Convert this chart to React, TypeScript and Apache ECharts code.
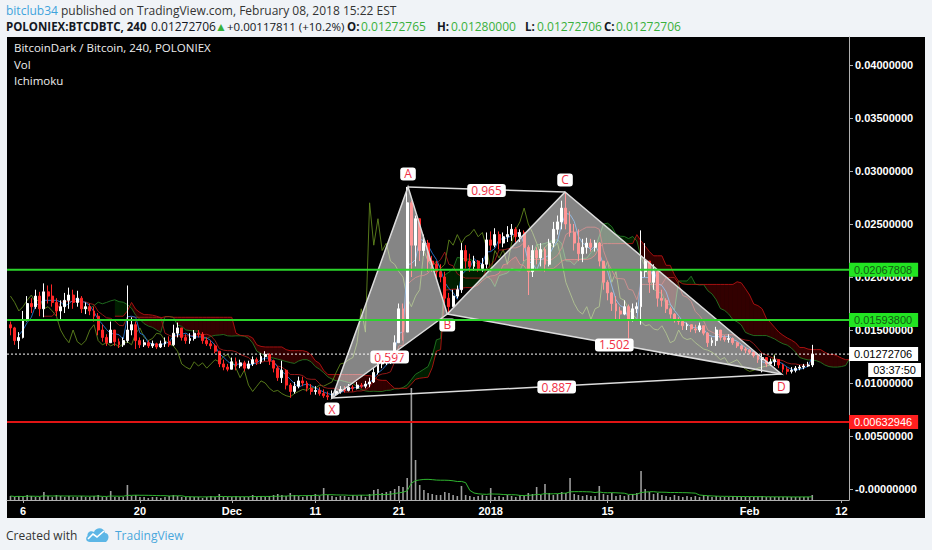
import { useEffect, useRef } from 'react';
import * as echarts from 'echarts';

// ---------- data ----------
// x is measured in days since 6 Nov 2017 00:00; candles every 12h
const FIRST_CANDLE_DAY = -1.5;
const CANDLE_STEP = 0.5;
const PRICE_UNIT = 1e-4; // candle prices below are in 1e-4 BTC
const FIRST_OPEN = 155;

const CLOSE = [
  152, 140, 143, 160, 175, 172, 182, 170, 186, 182,
  176, 168, 172, 178, 183, 176, 180, 170, 172, 168,
  163, 150, 143, 138, 150, 139, 136, 140, 150, 155,
  140, 136, 138, 135, 137, 134, 137, 139, 136, 147,
  152, 143, 140, 142, 147, 146, 140, 137, 135, 130,
  118, 115, 113, 120, 116, 119, 114, 118, 122, 120,
  125, 127, 121, 114, 105, 112, 98, 92, 97, 102,
  100, 95, 92, 93, 90, 88, 87, 90, 92, 94,
  93, 96, 95, 98, 97, 99, 101, 110, 118, 119,
  122, 124, 138, 170, 148, 270, 230, 255, 225, 232,
  215, 212, 205, 200, 180, 172, 182, 188, 225, 215,
  210, 215, 208, 212, 235, 230, 240, 232, 238, 240,
  245, 238, 242, 228, 205, 225, 218, 226, 212, 232,
  245, 252, 265, 250, 242, 232, 222, 228, 232, 228,
  232, 215, 195, 185, 175, 168, 165, 172, 160, 170,
  172, 205, 215, 195, 205, 180, 178, 170, 165, 160,
  158, 154, 155, 151, 150, 154, 147, 138, 140, 150,
  143, 141, 142, 138, 135, 132, 131, 129, 126, 122,
  124, 118, 120, 122, 117, 113, 111, 112, 114, 115,
  116, 117, 127.2706,
];
const HIGH = [
  158, 153, 148, 168, 182, 180, 188, 186, 194, 192,
  193, 180, 178, 185, 190, 188, 187, 182, 176, 175,
  172, 166, 155, 146, 158, 150, 142, 143, 192, 162,
  158, 143, 141, 140, 140, 138, 140, 143, 144, 155,
  157, 150, 146, 147, 150, 150, 148, 143, 140, 137,
  130, 122, 118, 124, 124, 122, 121, 121, 125, 124,
  128, 130, 128, 122, 116, 121, 113, 100, 101, 106,
  106, 102, 99, 97, 96, 94, 92, 93, 95, 97,
  97, 99, 98, 101, 100, 102, 105, 114, 123, 125,
  126, 127, 145, 175, 175, 285, 272, 258, 255, 240,
  235, 220, 215, 212, 205, 185, 188, 192, 232, 230,
  222, 220, 216, 218, 242, 243, 246, 243, 242, 248,
  250, 247, 245, 244, 230, 230, 228, 232, 228, 236,
  252, 258, 272, 280, 262, 250, 245, 236, 237, 236,
  235, 233, 215, 197, 186, 182, 172, 178, 174, 175,
  176, 244, 232, 215, 212, 206, 188, 180, 172, 166,
  162, 158, 157, 155, 155, 157, 151, 148, 143, 153,
  150, 145, 146, 143, 139, 136, 134, 132, 130, 128,
  128, 122, 123, 126, 121, 118, 115, 115, 116, 117,
  118, 120, 136,
];
const LOW = [
  145, 136, 132, 142, 158, 166, 170, 163, 162, 175,
  172, 163, 160, 166, 170, 170, 172, 166, 165, 164,
  158, 145, 139, 135, 138, 135, 133, 134, 138, 145,
  132, 133, 134, 133, 133, 132, 133, 134, 134, 135,
  143, 140, 137, 137, 140, 143, 137, 135, 132, 128,
  115, 112, 111, 113, 112, 114, 111, 113, 116, 117,
  118, 121, 117, 110, 102, 100, 94, 86, 90, 95,
  97, 92, 89, 89, 88, 86, 84, 85, 88, 90,
  91, 92, 92, 94, 95, 95, 96, 100, 108, 114,
  117, 118, 122, 138, 140, 148, 200, 210, 215, 220,
  205, 205, 198, 195, 175, 166, 172, 180, 185, 208,
  205, 206, 205, 205, 208, 225, 228, 226, 228, 233,
  234, 233, 233, 215, 183, 200, 212, 210, 205, 210,
  228, 240, 245, 245, 238, 225, 215, 214, 222, 224,
  224, 210, 188, 178, 168, 160, 160, 164, 142, 158,
  166, 155, 200, 185, 188, 172, 172, 166, 161, 157,
  155, 150, 150, 148, 147, 148, 145, 134, 135, 135,
  140, 139, 138, 136, 133, 130, 128, 127, 124, 119,
  110, 115, 116, 116, 114, 110, 108, 109, 110, 112,
  113, 115, 115,
];
const VOLUME = [
  4, 3, 4, 3, 5, 4, 3, 3, 8, 4,
  3, 5, 4, 3, 4, 3, 3, 4, 3, 3,
  4, 5, 3, 3, 9, 3, 3, 3, 15, 4,
  5, 3, 3, 2, 3, 3, 2, 3, 4, 5,
  4, 3, 3, 3, 3, 3, 2, 3, 4, 3,
  6, 3, 3, 3, 4, 3, 3, 3, 5, 3,
  4, 3, 4, 5, 6, 5, 4, 7, 5, 4,
  3, 4, 5, 6, 4, 12, 5, 4, 3, 4,
  4, 3, 5, 4, 5, 3, 6, 10, 11, 7,
  8, 9, 11, 14, 13, 22, 112, 40, 15, 10,
  7, 6, 5, 5, 8, 7, 5, 4, 14, 5,
  4, 3, 4, 5, 4, 12, 3, 4, 3, 5,
  4, 3, 5, 4, 7, 6, 13, 5, 16, 7,
  5, 6, 8, 7, 22, 6, 5, 4, 5, 4,
  4, 14, 6, 5, 7, 4, 5, 4, 5, 6,
  7, 29, 11, 8, 6, 7, 5, 4, 3, 5,
  4, 3, 4, 3, 4, 3, 5, 4, 3, 4,
  3, 3, 3, 4, 3, 3, 3, 3, 3, 3,
  4, 3, 3, 3, 3, 3, 3, 3, 3, 3,
  3, 3, 5,
];

const X_TICK_DAYS = [0, 14, 25, 35, 45, 56, 70, 87, 98];
const X_TICK_LABELS = ['6', '20', 'Dec', '11', '21', '2018', '15', 'Feb', '12'];
const Y_TICKS = [0, 0.005, 0.01, 0.015, 0.02, 0.025, 0.03, 0.035, 0.04];
const Y_TICK_LABELS = [
  '-0.00000000', '0.00500000', '0.01000000', '0.01500000', '0.02000000',
  '0.02500000', '0.03000000', '0.03500000', '0.04000000',
];

const GREEN_LEVELS = [0.02067808, 0.015938];
const RED_LEVELS = [0.00632946];
const LAST_PRICE = 0.01272706;
const COUNTDOWN = '03:37:50';

const PATTERN_NAMES = ['X', 'A', 'B', 'C', 'D'];
const PATTERN_DAYS = [37.0, 46.1, 50.8, 64.9, 90.8];
const PATTERN_PRICES = [0.00858, 0.0285, 0.01651, 0.02802, 0.01085];
const PATTERN_RATIOS = ['0.597', '0.965', '1.502', '0.887']; // XB, AC, BD, XD

// header quote line: [text, kind]
const QUOTE_PARTS = [
  ['POLONIEX:BTCDBTC, 240', 'b'],
  ['0.01272706', 'n'],
  ['▲', 'g'],
  ['+0.00117811 (+10.2%)', 's'],
  ['O:', 'b'], ['0.01272765', 'g'],
  ['H:', 'b'], ['0.01280000', 'g'],
  ['L:', 'b'], ['0.01272706', 'g'],
  ['C:', 'b'], ['0.01272706', 'g'],
];

// ---------- view constants ----------
const QUOTE_X = [6, 151, 215, 227, 347, 361, 437, 451, 525, 537, 604, 616];
const X_MIN = -1.916;
const X_MAX = 98.9;
const Y_MIN = -0.0010377;
const Y_MAX = 0.042642;
const TENKAN_N = 3;
const KIJUN_N = 9;
const SPANB_N = 17;
const DISP = 9;
const VOL_MA_N = 14;

const AXIS_FONT = 'Liberation Sans, Arial, sans-serif';
const UI_FONT = 'Open Sans, sans-serif';

echarts.graphic.registerShape(
  'tvcloud',
  echarts.graphic.extendPath(
    'M5 16 C1 16 0 12 2.5 10 C2 6 6 4 9 6 C11 1 19 1 20 7 C24 7 25 13 21 16 Z',
    {}
  )
);

function buildOption() {
  const N = CLOSE.length;
  const dayOf = (j: number) => FIRST_CANDLE_DAY + CANDLE_STEP * j;
  const opens = CLOSE.map((c, i) => (i === 0 ? FIRST_OPEN : CLOSE[i - 1]));
  const highs = HIGH.map((h, i) => Math.max(h, opens[i], CLOSE[i]));
  const lows = LOW.map((l, i) => Math.min(l, opens[i], CLOSE[i]));

  const candles = CLOSE.map((c, i) => [
    dayOf(i),
    opens[i] * PRICE_UNIT,
    c * PRICE_UNIT,
    lows[i] * PRICE_UNIT,
    highs[i] * PRICE_UNIT,
  ]);

  const mid = (i: number, n: number) => {
    if (i < n - 1) return null;
    let h = -Infinity;
    let l = Infinity;
    for (let k = i - n + 1; k <= i; k++) {
      h = Math.max(h, highs[k]);
      l = Math.min(l, lows[k]);
    }
    return ((h + l) / 2) * PRICE_UNIT;
  };
  const tenkan: any[] = [];
  const kijun: any[] = [];
  const spanA: (number | null)[] = new Array(N + DISP).fill(null);
  const spanB: (number | null)[] = new Array(N + DISP).fill(null);
  const chikou: any[] = [];
  for (let i = 0; i < N; i++) {
    const t = mid(i, TENKAN_N);
    const k = mid(i, KIJUN_N);
    const b = mid(i, SPANB_N);
    if (t != null) tenkan.push([dayOf(i), t]);
    if (k != null) kijun.push([dayOf(i), k]);
    if (t != null && k != null) spanA[i + DISP] = (t + k) / 2;
    if (b != null) spanB[i + DISP] = b;
    if (i - DISP >= 0) chikou.push([dayOf(i - DISP), CLOSE[i] * PRICE_UNIT]);
  }
  const spanAData: any[] = [];
  const spanBData: any[] = [];
  const cloud: any[] = [];
  for (let j = 0; j < N + DISP; j++) {
    if (spanA[j] != null) spanAData.push([dayOf(j), spanA[j]]);
    if (spanB[j] != null) spanBData.push([dayOf(j), spanB[j]]);
    if (
      j + 1 < N + DISP &&
      spanA[j] != null && spanB[j] != null &&
      spanA[j + 1] != null && spanB[j + 1] != null
    ) {
      cloud.push([dayOf(j), spanA[j], spanB[j], dayOf(j + 1), spanA[j + 1], spanB[j + 1]]);
    }
  }

  const volBars = VOLUME.map((v, i) => [dayOf(i), v]);
  const volMa: any[] = [];
  for (let i = 0; i < N; i++) {
    const from = Math.max(0, i - VOL_MA_N + 1);
    let s = 0;
    for (let k = from; k <= i; k++) s += VOLUME[k];
    volMa.push([dayOf(i), s / (i - from + 1)]);
  }

  const levels = [
    ...GREEN_LEVELS.map((v) => ({ v, kind: 'green' })),
    ...RED_LEVELS.map((v) => ({ v, kind: 'red' })),
    { v: LAST_PRICE, kind: 'last' },
  ];
  const levelStyle: Record<string, any> = {
    green: { stroke: '#2bd42b', lineWidth: 2 },
    red: { stroke: '#e01414', lineWidth: 2 },
    last: { stroke: '#ffffff', lineWidth: 1, lineDash: [2, 2] },
  };

  const tags = [
    ...GREEN_LEVELS.map((v) => ({ v, text: v.toFixed(8), kind: 'green' })),
    { v: LAST_PRICE, text: LAST_PRICE.toFixed(8), kind: 'white' },
    { v: LAST_PRICE, text: COUNTDOWN, kind: 'timer' },
    ...RED_LEVELS.map((v) => ({ v, text: v.toFixed(8), kind: 'red' })),
  ];
  const tagStyle: Record<string, any> = {
    green: { bg: '#22e422', fg: '#135a13' },
    white: { bg: '#ffffff', fg: '#000000' },
    timer: { bg: '#ffffff', fg: '#000000' },
    red: { bg: '#ff1f1f', fg: '#ffffff' },
  };
  const quoteStyle: Record<string, any> = {
    b: { fill: '#131722', font: 'bold 11.5px ' + UI_FONT },
    n: { fill: '#131722', font: '12px ' + UI_FONT },
    s: { fill: '#131722', font: '11.5px ' + UI_FONT },
    g: { fill: '#38b03a', font: '12px ' + UI_FONT },
  };

  const ichiLine = (data: any[], color: string, z = 1) => ({
    type: 'line',
    data,
    showSymbol: false,
    symbol: 'none',
    silent: true,
    z,
    lineStyle: { color, width: 1 },
  });

  const labelText = (x: number, y: number, text: string) => ({
    type: 'text',
    x,
    y,
    style: {
      text,
      fill: '#ef2f45',
      font: '12px ' + UI_FONT,
      align: 'center',
      verticalAlign: 'middle',
      backgroundColor: '#ffffff',
      padding: [1, 4, 0, 4],
      borderRadius: 3,
    },
  });

  const quoteTexts = QUOTE_PARTS.map(([text, kind], i) => ({
    type: 'text',
    x: QUOTE_X[i],
    y: 26,
    silent: true,
    style: { text, ...quoteStyle[kind], verticalAlign: 'middle' },
  }));

  return {
    animation: false,
    backgroundColor: '#f0f3f7',
    grid: { left: 7, right: 83, top: 37, bottom: 50, containLabel: false },
    xAxis: {
      type: 'value',
      min: X_MIN,
      max: X_MAX,
      splitLine: { show: false },
      axisLine: { show: true, onZero: false, lineStyle: { color: '#b0b0b0', width: 1 } },
      axisTick: { show: true, customValues: X_TICK_DAYS, length: 3, lineStyle: { color: '#b0b0b0' } },
      axisLabel: {
        customValues: X_TICK_DAYS,
        formatter: (v: number) => {
          const k = X_TICK_DAYS.findIndex((d) => Math.abs(d - v) < 1e-6);
          return k >= 0 ? X_TICK_LABELS[k] : '';
        },
        color: '#ffffff',
        fontSize: 11,
        fontWeight: 'bold',
        fontFamily: AXIS_FONT,
        margin: 5,
      },
    },
    yAxis: [
      {
        type: 'value',
        position: 'right',
        min: Y_MIN,
        max: Y_MAX,
        splitLine: { show: false },
        axisLine: { show: true, onZero: false, lineStyle: { color: '#b0b0b0', width: 1 } },
        axisTick: { show: true, customValues: Y_TICKS, length: 4, lineStyle: { color: '#b0b0b0' } },
        axisLabel: {
          customValues: Y_TICKS,
          formatter: (v: number) => {
            const k = Y_TICKS.findIndex((d) => Math.abs(d - v) < 1e-9);
            return k >= 0 ? Y_TICK_LABELS[k] : '';
          },
          color: '#ffffff',
          fontSize: 11,
          fontWeight: 'bold',
          fontFamily: AXIS_FONT,
          margin: 6,
        },
      },
      { type: 'value', min: 0, max: 463, show: false },
    ],
    graphic: [
      { type: 'rect', z: -10, silent: true, shape: { x: 7, y: 37, width: 918, height: 481 }, style: { fill: '#000000' } },
      {
        type: 'text', x: 6, y: 10, silent: true,
        style: {
          text: '{u|bitclub34}{d| published on TradingView.com, February 08, 2018 15:22 EST}',
          verticalAlign: 'middle',
          font: '12px ' + UI_FONT,
          rich: {
            u: { fill: '#3ea3dc', fontSize: 12, fontFamily: UI_FONT },
            d: { fill: '#333333', fontSize: 12, fontFamily: UI_FONT },
          },
        },
      },
      ...quoteTexts,
      { type: 'text', x: 14, y: 47, silent: true, style: { text: 'BitcoinDark / Bitcoin, 240, POLONIEX', fill: '#eeeeee', font: '11.5px ' + UI_FONT, verticalAlign: 'middle' } },
      { type: 'text', x: 14, y: 64, silent: true, style: { text: 'Vol', fill: '#eeeeee', font: '11.5px ' + UI_FONT, verticalAlign: 'middle' } },
      { type: 'text', x: 14, y: 80, silent: true, style: { text: 'Ichimoku', fill: '#eeeeee', font: '11.5px ' + UI_FONT, verticalAlign: 'middle' } },
      { type: 'text', x: 6, y: 535, silent: true, style: { text: 'Created with', fill: '#333333', font: '12px ' + UI_FONT, verticalAlign: 'middle' } },
      { type: 'tvcloud', x: 85, y: 526, scaleX: 1.0, scaleY: 1.0, silent: true, style: { fill: '#5cb6e6' } },
      { type: 'polyline', silent: true, shape: { points: [[88, 539], [93, 534], [97, 537], [104, 531]] }, style: { stroke: '#ffffff', lineWidth: 1.6, fill: 'none' } },
      { type: 'text', x: 115, y: 535, silent: true, style: { text: 'TradingView', fill: '#49a7dc', font: '12px ' + UI_FONT, verticalAlign: 'middle' } },
    ],
    series: [
      {
        type: 'custom',
        name: 'cloud',
        data: cloud,
        encode: { x: [0, 3], y: [1, 2, 4, 5] },
        silent: true,
        z: 1,
        renderItem: (_p: any, api: any) => {
          const a1 = api.coord([api.value(0), api.value(1)]);
          const b1 = api.coord([api.value(0), api.value(2)]);
          const a2 = api.coord([api.value(3), api.value(4)]);
          const b2 = api.coord([api.value(3), api.value(5)]);
          const bull = api.value(1) + api.value(4) >= api.value(2) + api.value(5);
          return {
            type: 'polygon',
            shape: { points: [a1, a2, b2, b1] },
            style: { fill: bull ? 'rgba(0,140,0,0.22)' : 'rgba(200,0,0,0.25)', stroke: 'none' },
          };
        },
      },
      ichiLine(spanAData, 'rgba(40,140,40,0.75)'),
      ichiLine(spanBData, 'rgba(200,20,20,0.8)'),
      ichiLine(chikou, 'rgba(100,140,30,0.85)'),
      ichiLine(kijun, 'rgba(160,25,25,0.9)'),
      ichiLine(tenkan, 'rgba(40,120,210,0.9)'),
      {
        type: 'bar',
        yAxisIndex: 1,
        data: volBars,
        barWidth: 1.6,
        silent: true,
        itemStyle: { color: '#9c9c9c' },
        z: 1,
      },
      {
        type: 'line',
        yAxisIndex: 1,
        data: volMa,
        showSymbol: false,
        symbol: 'none',
        silent: true,
        lineStyle: { color: '#2fb52f', width: 1 },
        z: 1,
      },
      {
        type: 'candlestick',
        data: candles,
        encode: { x: 0, y: [1, 2, 3, 4] },
        barWidth: 2.4,
        silent: true,
        z: 2,
        itemStyle: {
          color: '#ffffff',
          color0: '#ff2626',
          borderColor: '#ffffff',
          borderColor0: '#ff2626',
          borderWidth: 1,
        },
      },
      {
        type: 'custom',
        name: 'pattern',
        data: [[PATTERN_DAYS[0], PATTERN_PRICES[0]]],
        encode: { x: 0, y: 1 },
        silent: true,
        z: 4,
        renderItem: (_p: any, api: any) => {
          const pts = PATTERN_DAYS.map((d, i) => api.coord([d, PATTERN_PRICES[i]]));
          const [X, A, B, C, D] = pts;
          const edge = { stroke: '#dcdcdc', lineWidth: 1.5 };
          const midp = (p: number[], q: number[]) => [(p[0] + q[0]) / 2, (p[1] + q[1]) / 2];
          const offs = [11, -13, 11, -12, 13];
          const children: any[] = [
            { type: 'polygon', shape: { points: [X, A, B] }, style: { fill: 'rgba(255,255,255,0.52)', ...edge } },
            { type: 'polygon', shape: { points: [B, C, D] }, style: { fill: 'rgba(255,255,255,0.52)', ...edge } },
            { type: 'line', shape: { x1: A[0], y1: A[1], x2: C[0], y2: C[1] }, style: edge },
            { type: 'line', shape: { x1: X[0], y1: X[1], x2: D[0], y2: D[1] }, style: edge },
          ];
          const segs = [[X, B], [A, C], [B, D], [X, D]];
          segs.forEach((s, k) => {
            const m = midp(s[0], s[1]);
            children.push(labelText(m[0], m[1] + 1, PATTERN_RATIOS[k]));
          });
          pts.forEach((p, k) => children.push(labelText(p[0], p[1] + offs[k], PATTERN_NAMES[k])));
          return { type: 'group', children };
        },
      },
      {
        type: 'custom',
        name: 'levels',
        data: levels.map((l) => [X_MIN, l.v]),
        encode: { x: 0, y: 1 },
        silent: true,
        z: 6,
        renderItem: (p: any, api: any) => {
          const l = levels[p.dataIndex];
          const a = api.coord([X_MIN, l.v]);
          const b = api.coord([X_MAX, l.v]);
          return {
            type: 'line',
            shape: { x1: a[0], y1: a[1], x2: b[0], y2: b[1] },
            style: { ...levelStyle[l.kind], fill: 'none' },
          };
        },
      },
      {
        type: 'custom',
        name: 'tags',
        data: tags.map((t) => [X_MAX, t.v]),
        encode: { x: 0, y: 1 },
        silent: true,
        clip: false,
        z: 10,
        renderItem: (p: any, api: any) => {
          const t = tags[p.dataIndex];
          const st = tagStyle[t.kind];
          const c = api.coord([X_MAX, t.v]);
          const isTimer = t.kind === 'timer';
          return {
            type: 'text',
            x: isTimer ? c[0] + 72 : c[0],
            y: isTimer ? c[1] + 16 : c[1],
            style: {
              text: t.text,
              fill: st.fg,
              font: '11px ' + AXIS_FONT,
              align: isTimer ? 'right' : 'left',
              verticalAlign: 'middle',
              backgroundColor: st.bg,
              padding: isTimer ? [2, 5, 1, 5] : [2, 6, 1, 5],
            },
          };
        },
      },
    ],
  };
}

export default function App() {
  const ref = useRef<HTMLDivElement>(null);
  useEffect(() => {
    if (!ref.current) return;
    const chart = echarts.init(ref.current, undefined, { renderer: 'svg' });
    chart.setOption(buildOption() as any);
    return () => chart.dispose();
  }, []);
  return (
    <div
      ref={ref}
      style={{ position: 'fixed', left: 0, top: 0, width: 932, height: 550 }}
    />
  );
}
